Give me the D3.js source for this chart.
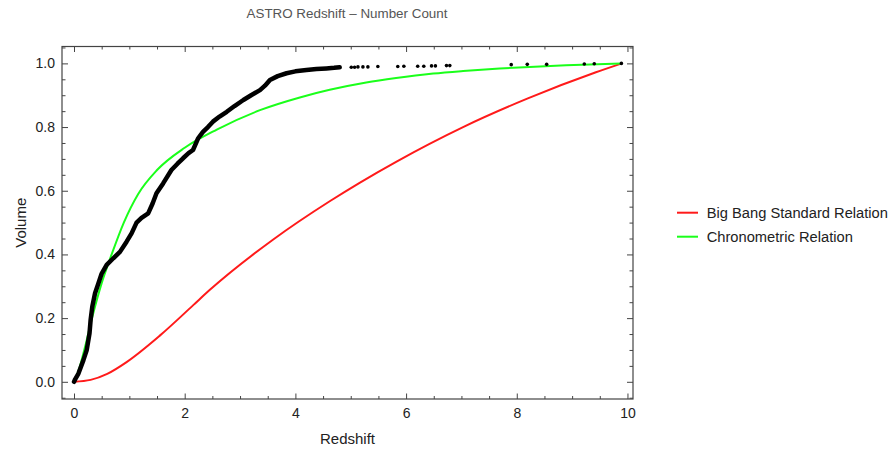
<!DOCTYPE html>
<html>
<head>
<meta charset="utf-8">
<script src="https://cdn.jsdelivr.net/npm/d3@7"></script>
<style>
  body { margin: 0; background: #fff; }
  text { font-family: "Liberation Sans", Arial, sans-serif; }
</style>
</head>
<body>
<div id="chart"></div>
<script>
// values
var xTicks = [0, 2, 4, 6, 8, 10];
var yTicks = [0, 0.2, 0.4, 0.6, 0.8, 1.0];

var bigBang = [[0,0],[0.3,0.006],[0.6,0.025],[0.95,0.062],[1.55,0.145],[2.15,0.24],[2.45,0.288],
  [3.6,0.447],[4.62,0.567],[5.16,0.625],[5.82,0.691],[7.03,0.8],[8.2,0.89],[9.43,0.972],[9.9,1.0]];

var chrono = [[0,0],[0.1,0.045],[0.2,0.11],[0.325,0.2],[0.5,0.31],[0.68,0.4],[0.9,0.5],[1.16,0.59],
  [1.5,0.665],[2.0,0.735],[2.58,0.792],[3.36,0.853],[4.08,0.893],[4.62,0.917],[5.28,0.94],
  [5.82,0.954],[6.49,0.968],[7.03,0.976],[7.69,0.984],[8.23,0.989],[8.89,0.994],[9.9,1.0]];

// observed counts, dense part
var countDense = [[0,0],[0.02,0.008],[0.08,0.026],[0.17,0.068],[0.23,0.1],[0.28,0.152],[0.3,0.194],
  [0.33,0.236],[0.38,0.278],[0.44,0.309],[0.5,0.34],[0.59,0.367],[0.71,0.388],[0.83,0.408],
  [0.95,0.44],[1.04,0.466],[1.13,0.5],[1.22,0.515],[1.34,0.529],[1.42,0.56],[1.49,0.592],
  [1.61,0.623],[1.76,0.665],[1.87,0.685],[1.97,0.702],[2.07,0.718],[2.15,0.728],[2.24,0.764],
  [2.33,0.785],[2.42,0.8],[2.51,0.817],[2.63,0.833],[2.76,0.848],[2.9,0.866],[3.06,0.885],
  [3.2,0.9],[3.36,0.916],[3.45,0.93],[3.54,0.948],[3.68,0.96],[3.84,0.969],[4.0,0.975],
  [4.2,0.979],[4.38,0.982],[4.56,0.984],[4.7,0.986],[4.8,0.988]];

// observed counts, sparse tail
var countSparse = [[5.01,0.988],[5.07,0.988],[5.13,0.989],[5.22,0.989],[5.31,0.989],[5.49,0.99],
  [5.85,0.99],[5.96,0.991],[6.21,0.991],[6.32,0.991],[6.46,0.992],[6.53,0.992],[6.73,0.993],
  [6.79,0.993],[7.9,0.996],[8.19,0.997],[8.54,0.997],[9.22,0.998],[9.4,0.999],[9.89,1.0]];

var legendNames = ["Big Bang Standard Relation", "Chronometric Relation"];
var legendColors = ["#ff1a1a", "#1aff1a"];

var W = 891, H = 452;
var margin = {left: 62, right: 633, top: 46.5, bottom: 399};

var svg = d3.select("#chart").append("svg")
  .attr("width", W).attr("height", H);

var x = d3.scaleLinear().domain([-0.217, 10.1]).range([margin.left, margin.right]);
var y = d3.scaleLinear().domain([-0.054, 1.053]).range([margin.bottom, margin.top]);

var xMinor = d3.range(0, 10.01, 0.5).filter(function(v){ return v % 2 !== 0; });
var yMinor = d3.range(-0.05, 1.051, 0.05).map(function(v){ return +v.toFixed(2); })
  .filter(function(v){ return Math.abs(v*5 - Math.round(v*5)) > 1e-6; });

function axisStyle(g) {
  g.select(".domain").remove();
  g.selectAll("line").attr("stroke", "#444");
  g.selectAll("text").attr("fill", "#222").style("font-size", "14px");
}

// bottom
svg.append("g").attr("transform", "translate(0," + margin.bottom + ")")
  .call(d3.axisBottom(x).tickValues(xTicks).tickSize(-5.5).tickPadding(9).tickFormat(d3.format("d")))
  .call(axisStyle);
svg.append("g").attr("transform", "translate(0," + margin.bottom + ")")
  .call(d3.axisBottom(x).tickValues(xMinor).tickSize(-3).tickFormat(""))
  .call(axisStyle);
// top
svg.append("g").attr("transform", "translate(0," + margin.top + ")")
  .call(d3.axisTop(x).tickValues(xTicks).tickSize(-5.5).tickFormat(""))
  .call(axisStyle);
svg.append("g").attr("transform", "translate(0," + margin.top + ")")
  .call(d3.axisTop(x).tickValues(xMinor).tickSize(-3).tickFormat(""))
  .call(axisStyle);
// left
svg.append("g").attr("transform", "translate(" + margin.left + ",0)")
  .call(d3.axisLeft(y).tickValues(yTicks).tickSize(-6).tickPadding(7).tickFormat(d3.format(".1f")))
  .call(axisStyle);
svg.append("g").attr("transform", "translate(" + margin.left + ",0)")
  .call(d3.axisLeft(y).tickValues(yMinor).tickSize(-3.5).tickFormat(""))
  .call(axisStyle);
// right
svg.append("g").attr("transform", "translate(" + margin.right + ",0)")
  .call(d3.axisRight(y).tickValues(yTicks).tickSize(-6).tickFormat(""))
  .call(axisStyle);
svg.append("g").attr("transform", "translate(" + margin.right + ",0)")
  .call(d3.axisRight(y).tickValues(yMinor).tickSize(-3.5).tickFormat(""))
  .call(axisStyle);

// frame
svg.append("rect")
  .attr("x", margin.left).attr("y", margin.top)
  .attr("width", margin.right - margin.left).attr("height", margin.bottom - margin.top)
  .attr("fill", "none").attr("stroke", "#444").attr("stroke-width", 1.2);

var line = d3.line()
  .x(function(d){ return x(d[0]); })
  .y(function(d){ return y(d[1]); })
  .curve(d3.curveMonotoneX);

svg.append("path").attr("d", line(bigBang))
  .attr("fill", "none").attr("stroke", legendColors[0]).attr("stroke-width", 2);
svg.append("path").attr("d", line(chrono))
  .attr("fill", "none").attr("stroke", legendColors[1]).attr("stroke-width", 2);

// observed points
var plain = d3.line()
  .x(function(d){ return x(d[0]); })
  .y(function(d){ return y(d[1]); });
svg.append("path").attr("d", plain(countDense))
  .attr("fill", "none").attr("stroke", "#000").attr("stroke-width", 4.5)
  .attr("stroke-linejoin", "round").attr("stroke-linecap", "round");
svg.selectAll(".dot").data(countSparse).enter().append("circle")
  .attr("class", "dot")
  .attr("cx", function(d){ return x(d[0]); })
  .attr("cy", function(d){ return y(d[1]); })
  .attr("r", 1.8).attr("fill", "#000");

// title and axis labels
svg.append("text").attr("x", 347).attr("y", 17.5)
  .attr("text-anchor", "middle").attr("fill", "#555").style("font-size", "13.4px")
  .text("ASTRO Redshift \u2013 Number Count");
svg.append("text").attr("x", (margin.left + margin.right) / 2).attr("y", 443.5)
  .attr("text-anchor", "middle").attr("fill", "#222").style("font-size", "15px")
  .text("Redshift");
svg.append("text")
  .attr("transform", "translate(26," + ((margin.top + margin.bottom) / 2) + ") rotate(-90)")
  .attr("text-anchor", "middle").attr("fill", "#222").style("font-size", "15px")
  .text("Volume");

// legend
var lg = svg.append("g").selectAll("g").data(legendNames).enter().append("g")
  .attr("transform", function(d, i){ return "translate(677," + (212.7 + i * 24) + ")"; });
lg.append("line").attr("x1", 0).attr("x2", 21).attr("y1", 0).attr("y2", 0)
  .attr("stroke", function(d, i){ return legendColors[i]; }).attr("stroke-width", 2);
lg.append("text").attr("x", 29.7).attr("y", 5.2)
  .attr("fill", "#222").style("font-size", "14.7px")
  .text(function(d){ return d; });
</script>
</body>
</html>
